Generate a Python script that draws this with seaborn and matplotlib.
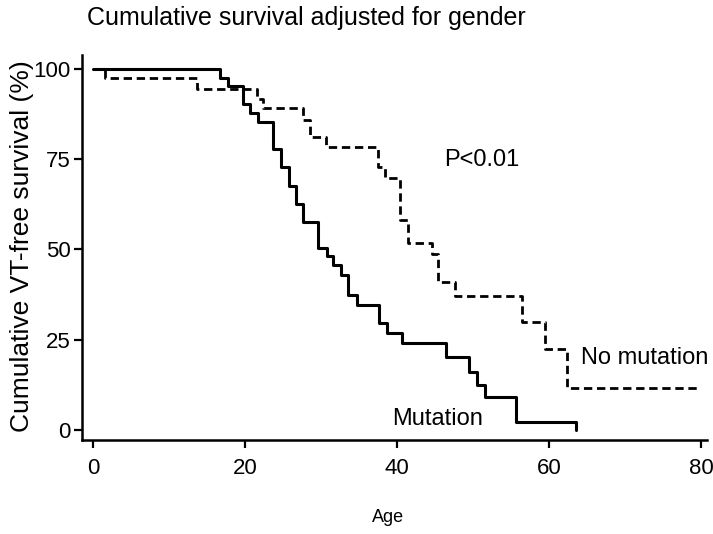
import matplotlib
matplotlib.use("Agg")
import matplotlib.pyplot as plt
import seaborn as sns
import pandas as pd

# Kaplan-Meier style step curves
mut_age = [0, 16.7, 17.8, 19.7, 20.7, 21.7, 23.7, 24.7, 25.8, 26.7, 27.6, 29.6, 30.8, 31.6,
           32.6, 33.6, 34.7, 37.6, 38.7, 40.7, 46.5, 49.5, 50.5, 51.6, 55.7, 63.6]
mut_surv = [100, 97.6, 95.3, 90.3, 87.8, 85.3, 77.8, 72.9, 67.6, 62.6, 57.6, 50.4, 48.2, 45.7,
            42.9, 37.4, 34.6, 29.6, 26.9, 24.1, 20.2, 16.0, 12.5, 9.1, 2.2, 0]

nomut_age = [0, 1.6, 13.7, 21.6, 22.4, 27.6, 28.6, 30.6, 37.5, 38.4, 40.4, 41.4, 44.6, 45.4,
             47.6, 56.4, 59.5, 62.4, 79.5]
nomut_surv = [100, 97.5, 94.5, 91.7, 89.2, 86.0, 81.2, 78.4, 72.9, 69.8, 58.2, 51.8, 48.8, 41.0,
              37.1, 29.9, 22.4, 11.6, 11.6]

x_ticks = [0, 20, 40, 60, 80]
y_ticks = [0, 25, 50, 75, 100]

sns.set_style("ticks")
plt.rcParams['font.family'] = ['Liberation Sans', 'DejaVu Sans']
plt.rcParams['text.color'] = 'black'
plt.rcParams['xtick.color'] = 'black'
plt.rcParams['ytick.color'] = 'black'

fig = plt.figure(figsize=(7.13, 5.34), dpi=100)
ax = fig.add_axes([0.115, 0.176, 0.8766, 0.721])

df_mut = pd.DataFrame({'age': mut_age, 'surv': mut_surv})
df_no = pd.DataFrame({'age': nomut_age, 'surv': nomut_surv})

sns.lineplot(data=df_mut, x='age', y='surv', drawstyle='steps-post', color='black',
             linewidth=2.2, ax=ax)
sns.lineplot(data=df_no, x='age', y='surv', drawstyle='steps-post', color='black',
             linewidth=2.0, ax=ax)
ax.lines[-1].set_dashes((3.0, 1.7))

ax.set_xlim(-1.45, 80.8)
ax.set_ylim(-2.8, 103.9)
ax.set_xticks(x_ticks)
ax.set_yticks(y_ticks)
ax.set_xticklabels([str(v) for v in x_ticks], fontsize=16)
ax.set_yticklabels([str(v) for v in y_ticks], fontsize=16)
ax.tick_params(axis='both', direction='out', length=6, width=1.6, color='black')
ax.tick_params(axis='x', pad=7)
ax.tick_params(axis='y', pad=2)
for s in ['left', 'bottom']:
    ax.spines[s].set_linewidth(1.8)
    ax.spines[s].set_color('black')
sns.despine(ax=ax)

ax.set_xlabel('')
ax.set_ylabel('')
fig.text(388 / 713, 1 - 518 / 534, 'Age', ha='center', va='center', fontsize=13)
fig.text(22 / 713, 1 - 246 / 534, 'Cumulative VT-free survival (%)', rotation=90,
         ha='center', va='center', fontsize=19)
fig.text(306 / 713, 1 - 18 / 534, 'Cumulative survival adjusted for gender',
         ha='center', va='center', fontsize=18)

ax.text(51.2, 74.8, 'P<0.01', ha='center', va='center', fontsize=17)
ax.text(72.6, 19.8, 'No mutation', ha='center', va='center', fontsize=17)
ax.text(45.3, 3.0, 'Mutation', ha='center', va='center', fontsize=17)

fig.savefig('out.png', dpi=100, facecolor='white')
